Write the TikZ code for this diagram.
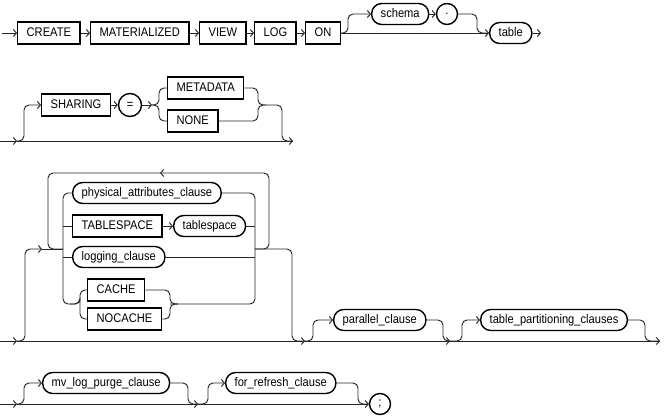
\documentclass[tikz,border=0pt]{standalone}
\usepackage{fontspec}
\setmainfont[FakeStretch=0.89]{Liberation Sans}
\usetikzlibrary{arrows.meta}
\begin{document}
\begin{tikzpicture}[x=1pt,y=-1pt,
  font=\fontsize{12.5}{14}\selectfont,
  kw/.style={draw,line width=1.4pt,minimum height=22pt,inner xsep=9pt,inner ysep=0pt,text height=9pt,text depth=2.5pt,anchor=west},
  nt/.style={draw,line width=1.4pt,rounded corners=10pt,minimum height=21pt,inner xsep=9pt,inner ysep=0pt,text height=9pt,text depth=2.5pt,anchor=west},
  sym/.style={draw,circle,line width=1.4pt,minimum size=21pt,inner sep=0pt},
  ln/.style={line width=0.95pt,draw=black!85,rounded corners=5pt},
  ar/.style={ln,-{Straight Barb[length=3pt,width=7pt,line width=0.95pt]}},
]
\useasboundingbox (0,0) rectangle (664,418);
% ---------------- row 1
\coordinate (r1s) at (2,33);
\node[kw] (create) at (17,33) {CREATE};
\node[kw] (mat) at (90,33) {MATERIALIZED};
\node[kw] (view) at (199,33) {VIEW};
\node[kw] (log) at (254,33) {LOG};
\node[kw] (on) at (305,33) {ON};
\node[nt] (schema) at (371,14) {schema};
\node[sym] (dot) at (447,14) {.};
\node[nt] (table) at (489,33) {table};
\coordinate (r1e) at (541,33);
\coordinate (r1up) at (348,14);
\coordinate (r1dn) at (477,33);
\draw[ar] (r1s) -- (create);
\draw[ar] (create) -- (mat);
\draw[ar] (mat) -- (view);
\draw[ar] (view) -- (log);
\draw[ar] (log) -- (on);
\draw[ar] (on) -- (table);
\draw[ar] (on.east) -| (r1up) -- (schema.west);
\draw[ar] (schema) -- (dot);
\draw[ln] (dot.east) -| (r1dn) -- (table.west);
\draw[ar] (table) -- (r1e);
% ---------------- row 2
\coordinate (r2s) at (0,141);
\coordinate (r2a) at (17,141);
\coordinate (r2up) at (24,105);
\node[kw] (sharing) at (41,105) {SHARING};
\node[sym,minimum size=23pt] (eq) at (130,105) {=};
\coordinate (r2b) at (152,105);
\node[kw] (meta) at (167,88) {METADATA};
\node[kw] (none) at (167,121) {NONE};
\coordinate (r2lu) at (159,88);
\coordinate (r2ld) at (159,121);
\coordinate (r2j) at (258,105);
\coordinate (r2k) at (266,105);
\coordinate (r2dn) at (282,141);
\coordinate (r2e) at (293,141);
\draw[ar] (r2s) -- (r2a);
\draw[ln] (r2a) -- (r2e);
\draw[ar] (r2a) -| (r2up) -- (sharing.west);
\draw[ar] (sharing) -- (eq);
\draw[ar] (eq) -- (r2b);
\draw[ln] (r2b) -| (r2lu) -- (meta.west);
\draw[ln] (r2b) -| (r2ld) -- (none.west);
\draw[ln] (none.east) -| (r2j) -- (r2k);
\draw[ar] (meta.east) -| (r2j) -| (r2dn) -- (r2e);
% ---------------- row 3
\coordinate (r3s) at (0,341);
\coordinate (r3a) at (17,341);
\coordinate (r3up) at (25,249);
\coordinate (r3b) at (42,249);
\coordinate (lr) at (63,249);
\coordinate (rr) at (255,249);
\coordinate (lpr) at (269,173);
\coordinate (lpm) at (160,173);
\coordinate (lpl) at (48,249);
\node[nt] (phys) at (72,193) {physical\_attributes\_clause};
\node[kw] (ts) at (72,226) {TABLESPACE};
\node[nt] (tsp) at (173,226) {tablespace};
\node[nt] (logc) at (72,257) {logging\_clause};
\node[kw] (cache) at (87,290) {CACHE};
\node[kw] (nocache) at (87,319) {NOCACHE};
\coordinate (lrts) at (63,226);
\coordinate (rrts) at (255,226);
\coordinate (lrlg) at (63,257);
\coordinate (rrlg) at (255,257);
\coordinate (sub0) at (70,304);
\coordinate (subl) at (80,304);
\coordinate (subr) at (170,304);
\coordinate (subr2) at (178,304);
\coordinate (r3dn) at (292,341);
\coordinate (r3m) at (305,341);
\draw[ar] (r3s) -- (r3a);
\draw[ln] (r3a) -- (r3m);
\draw[ar] (r3a) -| (r3up) -- (r3b);
\draw[ln] (r3b) -- (lr);
% loop
\draw[ar] (rr) -| (lpr) -- (lpm);
\draw[ln] (lpm) -| (lpl) -- (lr);
% left rail
\draw[ln] (phys.west) -| (lr) |- (sub0);
\draw[ln] (lrts) -- (ts.west);
\draw[ar] (ts) -- (tsp);
\draw[ln] (lrlg) -- (logc.west);
\draw[ln] (sub0) -| (subl) |- (cache.west);
\draw[ln] (sub0) -| (subl) |- (nocache.west);
\draw[ln] (cache.east) -| (subr) -- (subr2);
\draw[ln] (nocache.east) -| (subr) -- (subr2);
% right rail
\draw[ln] (phys.east) -| (rr) |- (subr);
\draw[ln] (tsp.east) -- (rrts);
\draw[ln] (logc.east) -- (rrlg);
\draw[ar] (rr) -| (r3dn) -- (r3m);
% parallel etc.
\coordinate (r3pu) at (313,320);
\node[nt] (par) at (333,320) {parallel\_clause};
\coordinate (r3pd) at (443,341);
\coordinate (r3m2) at (450,341);
\coordinate (r3tu) at (462,320);
\node[nt] (tpc) at (480,320) {table\_partitioning\_clauses};
\coordinate (r3td) at (645,341);
\coordinate (r3e) at (660,341);
\draw[ar] (r3m) -| (r3pu) -- (par.west);
\draw[ln] (r3m) -- (r3m2);
\draw[ar] (par.east) -| (r3pd) -- (r3m2);
\draw[ar] (r3m2) -| (r3tu) -- (tpc.west);
\draw[ar] (r3m2) -- (r3e);
\draw[ln] (tpc.east) -| (r3td) -- (r3e);
% ---------------- row 4
\coordinate (r4s) at (0,404);
\coordinate (r4a) at (17,404);
\coordinate (r4up) at (24,383);
\node[nt] (mv) at (42,383) {mv\_log\_purge\_clause};
\coordinate (r4dn) at (188,404);
\coordinate (r4m) at (198,404);
\coordinate (r4up2) at (208,383);
\node[nt] (fr) at (225,383) {for\_refresh\_clause};
\coordinate (r4dn2) at (358,404);
\node[sym] (semi) at (380,404) {;};
\draw[ar] (r4s) -- (r4a);
\draw[ln] (r4a) -- (r4m);
\draw[ar] (r4a) -| (r4up) -- (mv.west);
\draw[ar] (mv.east) -| (r4dn) -- (r4m);
\draw[ar] (r4m) -| (r4up2) -- (fr.west);
\draw[ar] (r4m) -- (semi);
\draw[ln] (fr.east) -| (r4dn2) -- (semi.west);
\end{tikzpicture}
\end{document}
